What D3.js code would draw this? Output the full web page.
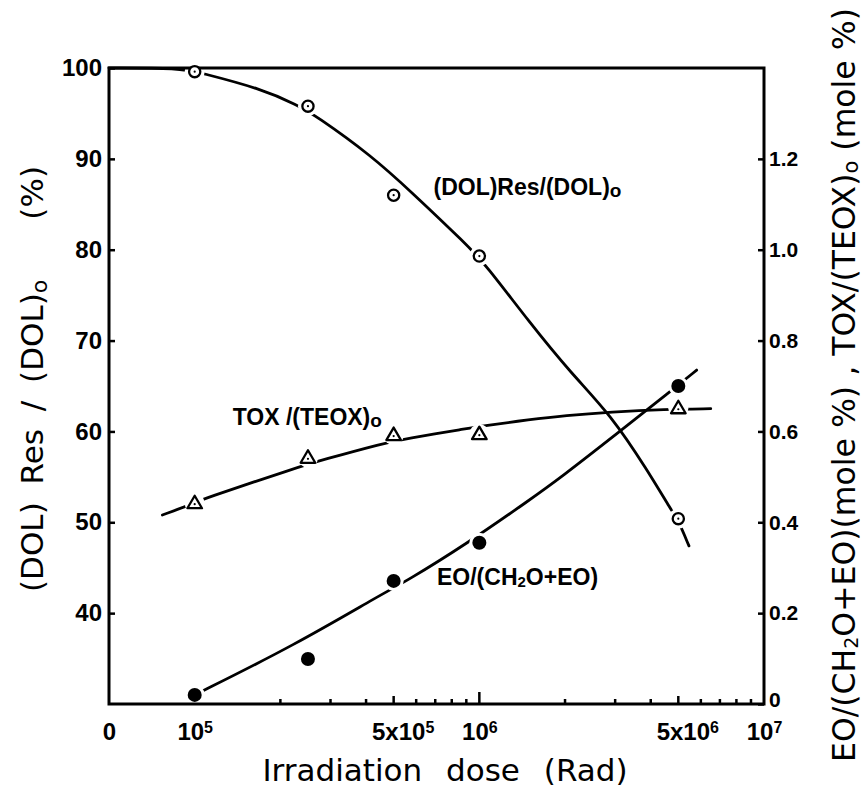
<!DOCTYPE html>
<html>
<head>
<meta charset="utf-8">
<script src="https://cdn.jsdelivr.net/npm/d3@7"></script>
<style>
  body { margin: 0; background: #fff; }
  svg { display: block; }
</style>
</head>
<body>
<svg id="chart" width="865" height="789"></svg>
<script>
// measured points (dose in Rad)
var doses = [1e5, 2.5e5, 5e5, 1e6, 5e6];
var dolRes = [99.6, 95.8, 86.0, 79.3, 50.4];      // left axis, %
var toxRatio = [0.442, 0.542, 0.592, 0.594, 0.651]; // right axis, mole %
var eoRatio = [0.02, 0.099, 0.271, 0.355, 0.70];    // right axis, mole %

// hand drawn fit curves, [dose, value]
var dolCurve = [[5e4, 100], [8.9e4, 100], [1.04e5, 99.5], [1.72e5, 97.7], [2.3e5, 95.9],
  [2.65e5, 94.8], [4.2e5, 90.3], [5.75e5, 86.4], [9e5, 80.6], [1.05e6, 78.4],
  [1.5e6, 72.0], [2.1e6, 66.4], [2.9e6, 61.8], [3.9e6, 55.7], [4.75e6, 51.2],
  [5.0e6, 50.2], [5.45e6, 47.4]];
var toxCurve = [[7.7e4, 0.416], [1e5, 0.442], [1.04e5, 0.449], [2.3e5, 0.521], [2.8e5, 0.537],
  [4.6e5, 0.574], [5.5e5, 0.584], [9e5, 0.606], [1.05e6, 0.613], [1.5e6, 0.626],
  [2.0e6, 0.635], [2.9e6, 0.643], [4.5e6, 0.649], [6.5e6, 0.650]];
var eoCurve = [[1e5, 0.02], [2.25e5, 0.13], [4.6e5, 0.244], [5.5e5, 0.269], [9e5, 0.352],
  [1.5e6, 0.449], [1.92e6, 0.497], [3.1e6, 0.599], [4.67e6, 0.687], [5.8e6, 0.735]];

var xTickValues = [5e4, 1e5, 5e5, 1e6, 5e6, 1e7];
var xTickLabels = ["0", "10^5", "5x10^5", "10^6", "5x10^6", "10^7"];
var yLeftTicks = [40, 50, 60, 70, 80, 90, 100];
var yRightTicks = [0, 0.2, 0.4, 0.6, 0.8, 1.0, 1.2];
var yRightLabels = ["0", "0.2", "0.4", "0.6", "0.8", "1.0", "1.2"];

var pL = 109, pR = 764, pT = 68, pB = 704;
var svg = d3.select("#chart");
svg.append("rect").attr("width", 865).attr("height", 789).attr("fill", "#fff");

var x = d3.scaleLog().domain([5e4, 1e7]).range([pL, pR]);
var yL = d3.scaleLinear().domain([30, 100]).range([pB, pT]);
var yR = d3.scaleLinear().domain([0, 1.4]).range([pB, pT]);

var tickFont = "Liberation Sans, Arial, sans-serif";
var titleFont = "DejaVu Sans, sans-serif";

// left axis
var gL = svg.append("g")
    .attr("transform", "translate(" + pL + ",0)")
    .call(d3.axisLeft(yL).tickValues(yLeftTicks).tickSizeInner(-6).tickSizeOuter(0).tickPadding(7));
gL.select(".domain").remove();
gL.attr("font-family", tickFont).attr("font-size", 24).attr("font-weight", "bold");
gL.selectAll("line").attr("stroke-width", 2.5);

// right axis
var gR = svg.append("g")
    .attr("transform", "translate(" + pR + ",0)")
    .call(d3.axisRight(yR).tickValues(yRightTicks).tickSizeInner(-6).tickSizeOuter(0).tickPadding(5)
      .tickFormat(function(d, i) { return yRightLabels[i]; }));
gR.select(".domain").remove();
gR.attr("font-family", tickFont).attr("font-size", 21).attr("font-weight", "bold");
gR.selectAll("line").attr("stroke-width", 2.5);
gR.selectAll(".tick text").filter(function(d) { return d === 0; }).attr("dy", "0.1em");

// bottom minor ticks, pointing inward
var minor = x.ticks().filter(function(d) { return d > 1e5 && d < 1e7; });
svg.append("g").selectAll("line")
    .data(minor)
  .enter().append("line")
    .attr("x1", function(d) { return x(d); })
    .attr("x2", function(d) { return x(d); })
    .attr("y1", pB)
    .attr("y2", function(d) {
      var m = Math.round(d / Math.pow(10, Math.floor(Math.log10(d) + 1e-9)));
      return pB - (m === 1 ? 12 : (m === 5 ? 8 : 5));
    })
    .attr("stroke", "#000").attr("stroke-width", 2.5);

// bottom labels
var gB = svg.append("g")
    .attr("transform", "translate(0," + pB + ")")
    .call(d3.axisBottom(x).tickValues(xTickValues).tickSize(0).tickPadding(19).tickFormat(""));
gB.select(".domain").remove();
gB.attr("font-family", tickFont).attr("font-size", 24).attr("font-weight", "bold");
gB.selectAll(".tick text").each(function(d, i) {
  var t = d3.select(this), lab = xTickLabels[i].split("^");
  t.text(lab[0]);
  if (lab[0].indexOf("5x") === 0) t.attr("dx", 9);
  if (lab.length > 1) {
    t.append("tspan").attr("dy", "-0.45em").attr("font-size", 16).text(lab[1]);
  }
});

// fitted curves
var lineL = d3.line().curve(d3.curveBasis)
    .x(function(d) { return x(d[0]); }).y(function(d) { return yL(d[1]); });
var lineR = d3.line().curve(d3.curveBasis)
    .x(function(d) { return x(d[0]); }).y(function(d) { return yR(d[1]); });

var curves = svg.append("g").attr("fill", "none").attr("stroke", "#000")
    .attr("stroke-width", 2.8).attr("stroke-linecap", "round");
curves.append("path").attr("d", lineL(dolCurve));
curves.append("path").attr("d", lineR(toxCurve));
curves.append("path").attr("d", lineR(eoCurve));

// white halos so the curves stop short of the markers
var all = [];
doses.forEach(function(d, i) {
  all.push([x(d), yL(dolRes[i])]);
  all.push([x(d), yR(toxRatio[i])]);
  all.push([x(d), yR(eoRatio[i])]);
});
svg.append("g").selectAll("circle")
    .data(all)
  .enter().append("circle")
    .attr("cx", function(d) { return d[0]; })
    .attr("cy", function(d) { return d[1]; })
    .attr("r", 10).attr("fill", "#fff");

// frame
svg.append("rect")
    .attr("x", pL).attr("y", pT)
    .attr("width", pR - pL).attr("height", pB - pT)
    .attr("fill", "none").attr("stroke", "#000").attr("stroke-width", 3);

// markers
var marks = svg.append("g").attr("stroke", "#000").attr("stroke-width", 2.3);

var dol = marks.selectAll("g.dol").data(doses).enter().append("g")
    .attr("class", "dol")
    .attr("transform", function(d, i) { return "translate(" + x(d) + "," + yL(dolRes[i]) + ")"; });
dol.append("circle").attr("r", 5.6).attr("fill", "#fff");
dol.append("circle").attr("r", 1.1).attr("fill", "#000").attr("stroke", "none");

var tox = marks.selectAll("g.tox").data(doses).enter().append("g")
    .attr("class", "tox")
    .attr("transform", function(d, i) { return "translate(" + x(d) + "," + yR(toxRatio[i]) + ")"; });
tox.append("path").attr("d", "M0,-7.5L7.3,5L-7.3,5Z").attr("fill", "#fff").attr("stroke-linejoin", "round");
tox.append("circle").attr("cy", 1).attr("r", 1.1).attr("fill", "#000").attr("stroke", "none");

marks.selectAll("circle.eo").data(doses).enter().append("circle")
    .attr("class", "eo")
    .attr("cx", function(d) { return x(d); })
    .attr("cy", function(d, i) { return yR(eoRatio[i]); })
    .attr("r", 7).attr("fill", "#000").attr("stroke", "none");

// curve labels
var lab = svg.append("g").attr("font-family", tickFont).attr("font-size", 23).attr("font-weight", "bold");
var t1 = lab.append("text").attr("x", x(6.9e5)).attr("y", yL(86.0)).text("(DOL)Res/(DOL)");
t1.append("tspan").attr("font-size", 19).attr("dy", 2).text("o");
var t2 = lab.append("text").attr("x", x(1.36e5)).attr("y", yR(0.614)).text("TOX /(TEOX)");
t2.append("tspan").attr("font-size", 19).attr("dy", 2).text("o");
var t3 = lab.append("text").attr("x", x(7.1e5)).attr("y", yR(0.262)).text("EO/(CH");
t3.append("tspan").attr("font-size", 15).attr("dy", 2).text("2");
t3.append("tspan").attr("dy", -2).text("O+EO)");

// axis titles
svg.append("text")
    .attr("x", 445).attr("y", 781)
    .attr("text-anchor", "middle")
    .attr("font-family", titleFont).attr("font-size", 31)
    .attr("word-spacing", 14)
    .text("Irradiation dose (Rad)");

var lt = svg.append("text")
    .attr("transform", "translate(43,592) rotate(-90)")
    .attr("font-family", titleFont).attr("font-size", 31)
    .attr("word-spacing", 8)
    .text("(DOL) Res / (DOL)");
lt.append("tspan").attr("font-size", 22).attr("dy", 4).text("o");
svg.append("text")
    .attr("transform", "translate(43,166) rotate(-90)")
    .attr("text-anchor", "end")
    .attr("font-family", titleFont).attr("font-size", 31)
    .text("(%)");

var rt = svg.append("text")
    .attr("transform", "translate(855,762) rotate(-90)")
    .attr("font-family", titleFont).attr("font-size", 31.5)
    .text("EO/(CH");
rt.append("tspan").attr("font-size", 19).attr("dy", 3).text("2");
rt.append("tspan").attr("dy", -3).text("O+EO)(mole %) ,  TOX/(TEOX)");
rt.append("tspan").attr("font-size", 21).attr("dy", 3).text("o");
rt.append("tspan").attr("dy", -3).text(" (mole %)");
</script>
</body>
</html>
